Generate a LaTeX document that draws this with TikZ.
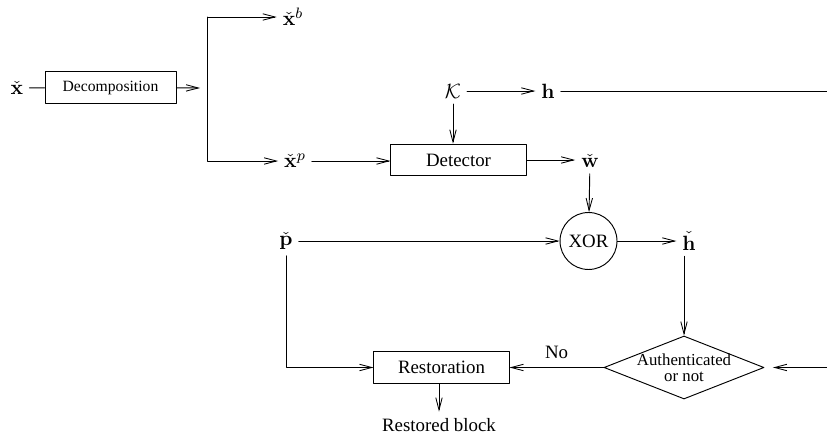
\documentclass[tikz,border=0pt]{standalone}
\usepackage[no-math]{fontspec}
\setmainfont{Liberation Serif}
\usetikzlibrary{arrows.meta,shapes.geometric}
\begin{document}
\begin{tikzpicture}[x=0.53pt,y=-0.53pt,line cap=round,line join=round,line width=0.5pt,
  >={Straight Barb[length=6.5pt,width=3.4pt,line width=0.45pt]},
  blk/.style={draw,minimum width=71.6pt,minimum height=16.8pt,inner sep=0pt},
  sym/.style={inner sep=3pt,font=\fontsize{11}{13}\selectfont},
  decision/.style={draw,diamond,minimum width=84.8pt,minimum height=33.4pt,inner sep=0pt}]
  \useasboundingbox (0,0) rectangle (827,437);
  \node[sym] (x) at (17,88) {$\check{\mathbf{x}}$};
  \node[blk,minimum width=69.4pt,font=\fontsize{8.3}{10}\selectfont] (dec) at (110.5,87.5) {Decomposition};
  \coordinate (fork) at (200,88);
  \coordinate (bartop) at (207.5,17);
  \coordinate (barbot) at (207.5,161);
  \node[sym] (xb) at (293,17) {$\check{\mathbf{x}}^b$};
  \node[sym] (xp) at (295,161) {$\check{\mathbf{x}}^p$};
  \node[blk] (det) at (458.5,160) {Detector};
  \node[sym] (key) at (453,91) {$\mathcal{K}$};
  \node[sym] (h) at (548,91) {$\mathbf{h}$};
  \coordinate (hend) at (827,91);
  \node[sym] (w) at (590,161) {$\check{\mathbf{w}}$};
  \node[draw,circle,minimum size=30.2pt,inner sep=0pt] (xor) at (588.5,241) {XOR};
  \node[sym] (p) at (286,241) {$\check{\mathbf{p}}$};
  \node[sym] (hc) at (689,241) {$\check{\mathbf{h}}$};
  \node[decision] (auth) at (684,367.5) {};
  \node[align=center,font=\fontsize{8.9}{8.5}\selectfont] (authtxt) at (auth) {Authenticated\\or not};
  \coordinate (aend) at (827,367.5);
  \node[blk] (rest) at (441.5,367.5) {Restoration};
  \node (out) at (439,425) {Restored block};
  % connectors
  \draw (x) -- (dec);
  \draw[->] (dec) -- (fork);
  \draw (bartop) -- (barbot);
  \draw[->] (bartop) -- (xb);
  \draw[->] (barbot) -- (xp);
  \draw[->] (xp) -- (xp -| det.west);
  \draw[->] (key) -- (key |- det.north);
  \draw[->] (key) -- (h);
  \draw (h) -- (hend);
  \draw[->] (det.east) -- (det.east -| w.west);
  \draw[->] (w) -- (xor);
  \draw[->] (p) -- (xor);
  \draw[->] (xor) -- (hc);
  \draw[->] (hc.south -| auth.north) -- (auth.north);
  \draw[->] (auth) -- node[above=1pt] {No} (rest);
  \draw[->,shorten >=4.5pt] (aend) -- (auth);
  \draw[->] (p) |- (rest);
  \draw[->] (out.north |- rest.south) -- (out);
\end{tikzpicture}
\end{document}
